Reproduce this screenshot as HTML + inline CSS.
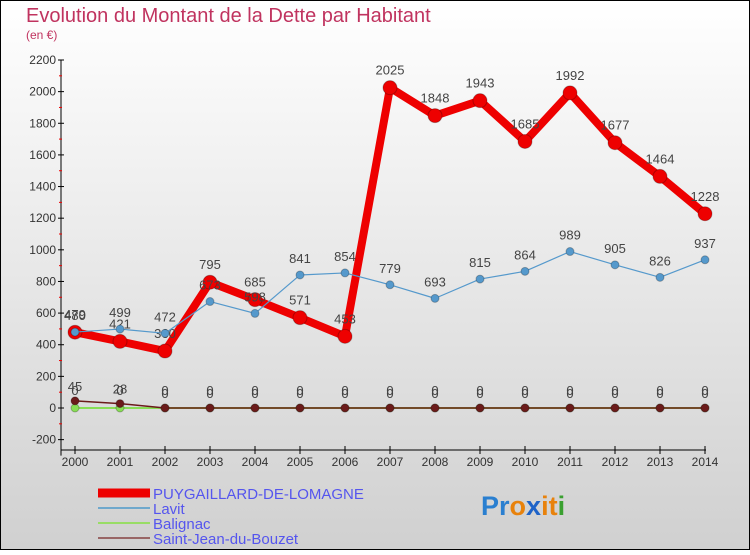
<!DOCTYPE html>
<html><head><meta charset="utf-8"><style>
html,body{margin:0;padding:0}
body{width:750px;height:550px;overflow:hidden;font-family:"Liberation Sans","DejaVu Sans",sans-serif}
</style></head><body>
<svg id="chart" width="750" height="550" xmlns="http://www.w3.org/2000/svg">
<defs><linearGradient id="bg" x1="0" y1="0" x2="0" y2="1"><stop offset="0" stop-color="#ffffff"/><stop offset="1" stop-color="#d0d0d0"/></linearGradient></defs>
<rect x="0.5" y="0.5" width="749" height="549" fill="url(#bg)" stroke="#000"/>
<text x="26" y="22" font-size="20" fill="#c0335f">Evolution du Montant de la Dette par Habitant</text>
<text x="26" y="39" font-size="12" fill="#c0335f">(en €)</text>
<g id="axes"></g>
<g id="series"></g>
<g id="legend"></g>
<text x="481" y="515" font-size="27" font-weight="bold"><tspan fill="#2a7fd0">Pr</tspan><tspan fill="#e8820c">o</tspan><tspan fill="#1e63c8">x</tspan><tspan fill="#e8820c">it</tspan><tspan fill="#3aa030">i</tspan></text>
</svg>
<script>
const years=[2000,2001,2002,2003,2004,2005,2006,2007,2008,2009,2010,2011,2012,2013,2014];
const yTicks=[-200,0,200,400,600,800,1000,1200,1400,1600,1800,2000,2200];
const puy=[479,421,360,795,685,571,453,2025,1848,1943,1685,1992,1677,1464,1228];
const lavit=[480,499,472,673,598,841,854,779,693,815,864,989,905,826,937];
const balignac=[0,0,0,0,0,0,0,0,0,0,0,0,0,0,0];
const sjb=[45,28,0,0,0,0,0,0,0,0,0,0,0,0,0];
const seriesNames=["PUYGAILLARD-DE-LOMAGNE","Lavit","Balignac","Saint-Jean-du-Bouzet"];
const NS="http://www.w3.org/2000/svg";
function X(i){return 75+i*45;}
function Y(v){return 408-v*348/2200;}
function mk(tag,attrs,parent){const e=document.createElementNS(NS,tag);for(const k in attrs)e.setAttribute(k,attrs[k]);parent.appendChild(e);return e;}
const axes=document.getElementById('axes');
let a=mk('line',{x1:61,y1:Y(2200),x2:61,y2:Y(-200)+16,stroke:'#000'},axes);


a=mk('line',{x1:61,y1:450,x2:706,y2:450,stroke:'#000'},axes);


yTicks.forEach(t=>{
  const y=Y(t);
  mk('line',{x1:58,y1:y,x2:64,y2:y,stroke:'#000'},axes);
  if(t<2200) mk('line',{x1:59,y1:Y(t+100),x2:62,y2:Y(t+100),stroke:'#e00'},axes);
  const tx=mk('text',{x:56,y:y+4,'text-anchor':'end','font-size':12,fill:'#333'},axes);
  tx.textContent=t;
  
  
});
years.forEach((yr,i)=>{
  mk('line',{x1:X(i),y1:446,x2:X(i),y2:454,stroke:'#000'},axes);
  const tx=mk('text',{x:X(i),y:466,'text-anchor':'middle','font-size':12,fill:'#333'},axes);
  tx.textContent=yr;
  
  
});
const g=document.getElementById('series');
function draw(vals,color,w,r,name,labelOff){
  const pts=vals.map((v,i)=>X(i)+','+Y(v)).join(' ');
  const pl=mk('polyline',{points:pts,fill:'none',stroke:color,'stroke-width':w,'stroke-linejoin':'round'},g);
  
  
  vals.forEach((v,i)=>{
    const c=mk('circle',{cx:X(i),cy:Y(v),r:r,fill:color,stroke:'rgba(0,0,0,0.25)','stroke-width':1},g);
    
    
    const t=mk('text',{x:X(i),y:Y(v)-labelOff,'text-anchor':'middle','font-size':13,fill:'#444'},g);
    t.textContent=v;
    
    
  });
}
draw(balignac,'#88dd55',2,4,'balignac',13);
draw(sjb,'#6b1a1a',1.5,4,'saint-jean-du-bouzet',10);
draw(puy,'#ee0000',8,7,'puygaillard',13);
draw(lavit,'#5599cc',1.2,4,'lavit',12);
const lg=document.getElementById('legend');
const lcol=['#ee0000','#6fa8cc','#99dd66','#996666'];
const lw=[9,2,2,2];
seriesNames.forEach((n,i)=>{
  const y=487+i*15;
  const l=mk('line',{x1:98,y1:y+6,x2:150,y2:y+6,stroke:lcol[i],'stroke-width':lw[i]},lg);
  
  
  const t=mk('text',{x:153,y:y+12,'font-size':15,fill:'#5555ee'},lg);
  t.textContent=n;
  
  
});
</script>
</body></html>
